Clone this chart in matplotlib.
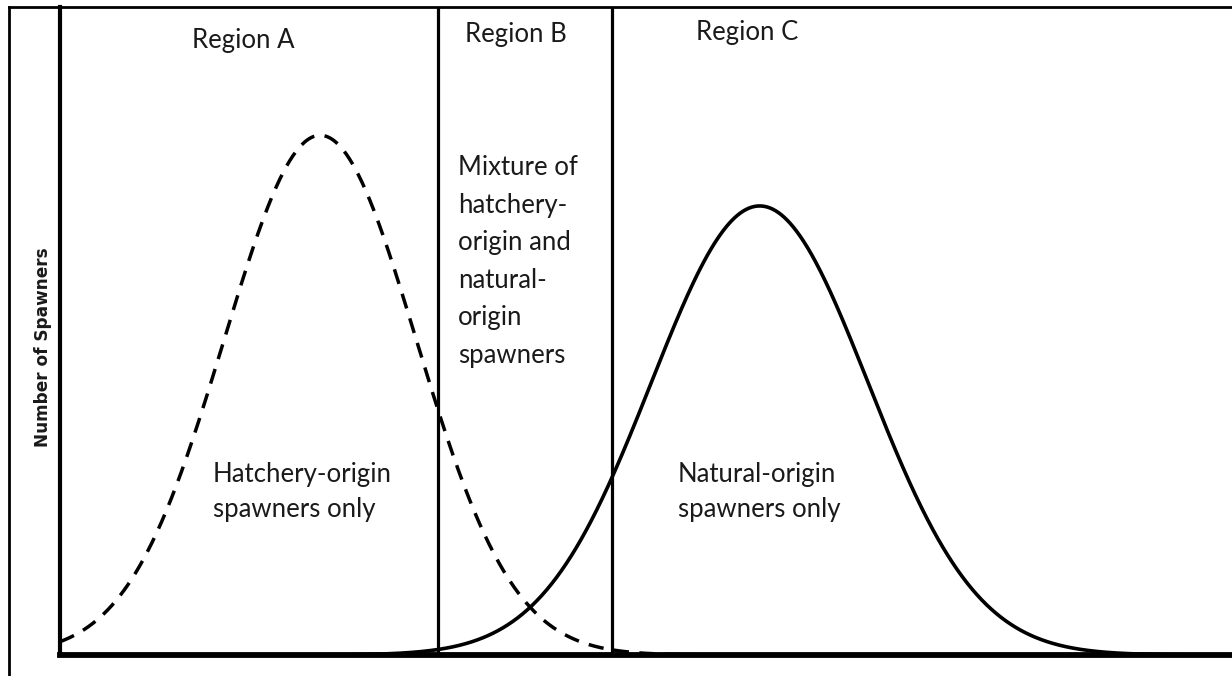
import numpy as np
import matplotlib
matplotlib.use("Agg")
import matplotlib.pyplot as plt
from matplotlib.lines import Line2D

# ---- data (schematic distributions) ----
hatchery_mean, hatchery_sd, hatchery_peak = 22.2, 8.2, 80.2
natural_mean, natural_sd, natural_peak = 59.7, 9.25, 69.3
region_bounds = [32.25, 47.1]
region_labels = ["Region A", "Region B", "Region C"]
y_label = "Number of Spawners"
text_a = ["Hatchery-origin", "spawners only"]
text_b = ["Mixture of", "hatchery-", "origin and", "natural-", "origin", "spawners"]
text_c = ["Natural-origin", "spawners only"]

x = np.linspace(0, 100, 1200)
hatchery = hatchery_peak * np.exp(-0.5 * ((x - hatchery_mean) / hatchery_sd) ** 2)
natural = natural_peak * np.exp(-0.5 * ((x - natural_mean) / natural_sd) ** 2)

plt.rcParams['lines.scale_dashes'] = False
W, H = 1232, 676
AX_L, AX_T, AX_B = 60, 7, 655
fig = plt.figure(figsize=(W / 100, H / 100), dpi=100)
ax = fig.add_axes([AX_L / W, (H - AX_B) / H, 1 - AX_L / W, (AX_B - AX_T) / H])
ax.set_xlim(0, 100)
ax.set_ylim(0, 100)

def px2x(px):
    return (px - AX_L) / (W - AX_L) * 100

def py2y(py):
    return (AX_B - py) / (AX_B - AX_T) * 100

txtcol = "#1a1a1a"
font = "Lato"
fs = 18.5

ax.plot(x, hatchery, color="black", lw=2.5, dashes=(11, 7.5), dash_capstyle='butt')
ax.plot(x, natural, color="black", lw=2.6)
for b in region_bounds:
    ax.axvline(b, color="black", lw=2.3)

for s in ["top", "right"]:
    ax.spines[s].set_visible(False)
ax.spines["left"].set_linewidth(3.0)
ax.spines["bottom"].set_linewidth(4.2)
ax.set_xticks([])
ax.set_yticks([])

# region headers (left px, baseline px)
for lab, (lx, by) in zip(region_labels, [(192, 48), (465, 42), (696, 40)]):
    ax.text(px2x(lx), py2y(by), lab, fontsize=fs, family=font, color=txtcol,
            ha="left", va="baseline")

def block(lines, left, first_base, step):
    for i, ln in enumerate(lines):
        ax.text(px2x(left), py2y(first_base + i * step), ln, fontsize=fs, family=font,
                color=txtcol, ha="left", va="baseline")

block(text_a, 213, 482, 35)
block(text_b, 458, 175, 37.6)
block(text_c, 678, 482, 35)

fig.text(43 / W, 1 - 347 / H, y_label, rotation=90, fontsize=12.2, family="DejaVu Sans",
         weight="bold", color=txtcol, ha="center", va="center")

# outer frame of the figure
fig.add_artist(Line2D([9 / W, 1.0], [1 - 7 / H, 1 - 7 / H], color="black", lw=2.0, transform=fig.transFigure))
fig.add_artist(Line2D([9 / W, 9 / W], [0, 1 - 7 / H], color="black", lw=2.0, transform=fig.transFigure))

fig.savefig("out.png", dpi=100)
